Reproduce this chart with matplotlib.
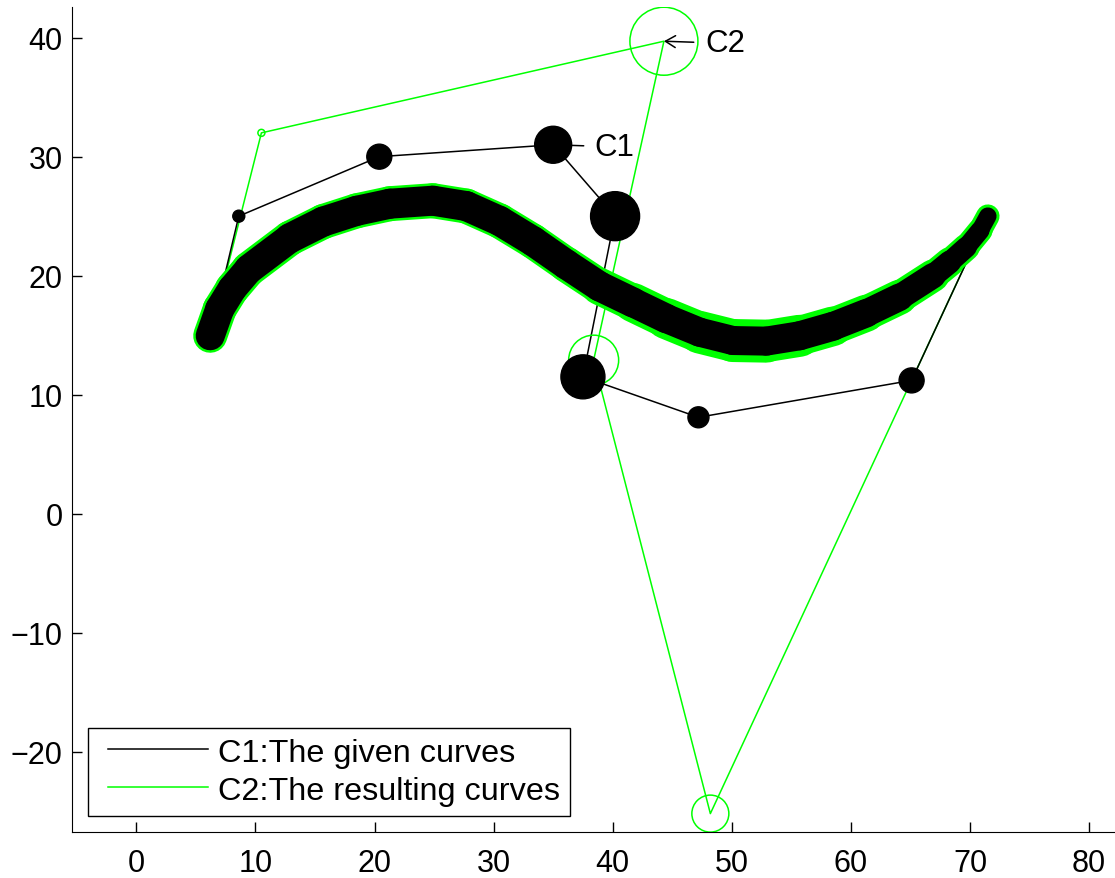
import matplotlib.pyplot as plt
from matplotlib.collections import LineCollection
from matplotlib.legend_handler import HandlerLine2D
from matplotlib.lines import Line2D
import numpy as np

plt.rcParams['font.family'] = ['Liberation Sans', 'DejaVu Sans']

# control polygon of the given curve C1
c1_x = [6.2, 8.6, 20.4, 35.0, 40.2, 37.5, 47.2, 65.1, 71.5]
c1_y = [14.9, 25.0, 30.0, 31.0, 25.0, 11.5, 8.1, 11.2, 25.0]

# control polygon of the resulting curve C2
c2_x = [6.2, 10.5, 44.3, 38.4, 48.2, 71.5]
c2_y = [14.9, 32.0, 39.7, 12.9, -25.2, 25.0]

# points along the curve itself
curve_x = [6.2, 7.0, 8.05, 9.45, 12.9, 15.7, 18.5, 21.3, 24.9, 27.7,
           30.5, 33.3, 36.1, 38.9, 41.7, 44.5, 47.3, 50.1, 52.9, 55.7,
           58.5, 61.3, 64.1, 66.9, 68.3, 69.7, 70.85, 71.5]
curve_y = [14.95, 17.2, 18.9, 20.55, 23.15, 24.55, 25.45, 26.05, 26.3, 25.85,
           24.6, 22.9, 20.95, 19.1, 17.75, 16.4, 15.25, 14.55, 14.5, 14.95,
           15.75, 16.85, 18.2, 20.0, 21.15, 22.4, 23.8, 25.0]

labels = ['C1:The given curves', 'C2:The resulting curves']

GREEN = '#00ff00'
px = 72 / 100  # points per pixel

# marker diameters (pixels) on the inner control points
c1_sizes = [12, 25, 37, 49, 44, 21, 25]
c2_sizes = [7, 68, 50, 37]
# band width along the curve (pixels)
black_w = [29, 29, 29, 29, 30, 30, 30, 30, 30, 30,
           30, 30, 30, 30, 30, 29, 29, 29, 29, 29,
           29, 28, 27, 24, 22, 20, 18, 17]
green_w = [34, 34, 34, 35, 35, 35, 35, 35, 35, 35,
           35, 35, 35, 36, 38, 40, 42, 43, 43, 41,
           38, 36, 34, 31, 28, 26, 24, 23]

fig = plt.figure(figsize=(11.15, 8.79), dpi=100)
ax = fig.add_axes([72.3 / 1115, 46.3 / 879, 1 - 72.3 / 1115, 824.4 / 879])


def thick_curve(xs, ys, widths, color, z):
    pts = np.column_stack([xs, ys])
    segs = [pts[i:i + 2] for i in range(len(pts) - 1)]
    lw = [(widths[i] + widths[i + 1]) / 2 * px for i in range(len(segs))]
    lc = LineCollection(segs, linewidths=lw, colors=color, capstyle='round',
                        joinstyle='round', zorder=z)
    ax.add_collection(lc)


# control polygons
ax.plot(c2_x, c2_y, color=GREEN, lw=1.1, zorder=2)
ax.plot(c1_x, c1_y, color='k', lw=1.1, zorder=2.1)

# curves
thick_curve(curve_x, curve_y, green_w, GREEN, 2.5)
thick_curve(curve_x, curve_y, black_w, 'k', 2.6)

# weight markers
ax.scatter(c2_x[1:-1], c2_y[1:-1], s=[(d * px) ** 2 for d in c2_sizes],
           facecolors='none', edgecolors=GREEN, linewidths=1.1, zorder=3.5)
ax.scatter(c1_x[1:-1], c1_y[1:-1], s=[(d * px) ** 2 for d in c1_sizes],
           color='k', zorder=4)

arrow = dict(arrowstyle='->,head_length=0.32,head_width=0.19', lw=1.1,
             color='k', shrinkA=6, shrinkB=0)
ax.annotate('C1', xy=(c1_x[3], c1_y[3]), xytext=(30, -1.5),
            textcoords='offset points', fontsize=22.5, ha='left',
            va='center', arrowprops=arrow, zorder=3)
ax.annotate('C2', xy=(c2_x[2], c2_y[2]), xytext=(29.5, -1.5),
            textcoords='offset points', fontsize=22.5, ha='left',
            va='center', arrowprops=arrow, zorder=3)

ax.set_xlim(-5.38, 82.18)
ax.set_ylim(-26.72, 42.55)
ax.set_xticks(range(0, 81, 10))
ax.set_yticks(range(-20, 41, 10))
ax.spines['top'].set_visible(False)
ax.spines['right'].set_visible(False)
ax.tick_params(direction='in', length=7.2, width=1, labelsize=22)
ax.tick_params(axis='x', pad=11.6)
ax.tick_params(axis='y', pad=7)

handles = [Line2D([], [], color='k', lw=1.1),
           Line2D([], [], color=GREEN, lw=1.1)]
leg = ax.legend(handles, labels, loc='lower left', fontsize=23.3,
                handlelength=3.4, handletextpad=0.3, borderpad=0.3,
                labelspacing=0.25, borderaxespad=0.5, fancybox=False,
                framealpha=1, edgecolor='k',
                handler_map={Line2D: HandlerLine2D(xpad=0.31)})
leg.get_frame().set_linewidth(1)

fig.savefig('out.png', dpi=100)
